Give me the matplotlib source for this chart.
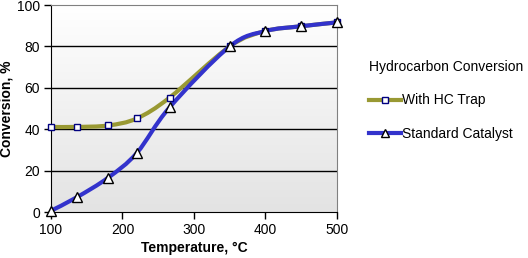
import matplotlib
matplotlib.use('Agg')
import matplotlib.pyplot as plt
import numpy as np
from matplotlib.path import Path
from matplotlib.patches import PathPatch
from matplotlib.lines import Line2D

plt.rcParams['font.family'] = ['Liberation Sans', 'DejaVu Sans']

# temperatures (deg C) and conversions (%)
temp = [100, 136, 180, 220, 266, 350, 400, 449, 500]
trap = [41.1, 41.1, 41.8, 45.2, 55.3, 80.0, 87.4, 89.7, 91.6]
standard = [0.6, 7.1, 16.6, 28.5, 50.6, 80.0, 87.4, 89.7, 91.6]

trap_color = '#999933'
std_color = '#3333cc'
mark_color = '#000080'


def smooth_path(xs, ys):
    # Excel-style smoothed line: cubic Bezier segments, drawn by matplotlib
    xs = np.asarray(xs, float)
    ys = np.asarray(ys, float)
    verts = [(xs[0], ys[0])]
    codes = [Path.MOVETO]
    n = len(xs)
    for i in range(n - 1):
        p0 = (xs[max(i - 1, 0)], ys[max(i - 1, 0)])
        p1 = (xs[i], ys[i])
        p2 = (xs[i + 1], ys[i + 1])
        p3 = (xs[min(i + 2, n - 1)], ys[min(i + 2, n - 1)])
        c1 = (p1[0] + (p2[0] - p0[0]) / 6, p1[1] + (p2[1] - p0[1]) / 6)
        c2 = (p2[0] - (p3[0] - p1[0]) / 6, p2[1] - (p3[1] - p1[1]) / 6)
        verts += [c1, c2, p2]
        codes += [Path.CURVE4] * 3
    return Path(verts, codes)


fig = plt.figure(figsize=(5.28, 2.58), dpi=100)
ax = fig.add_axes([51 / 528, 1 - 212 / 258, 286 / 528, 207 / 258])

# gradient background
grad = np.linspace(0, 1, 256).reshape(-1, 1)
cmap = matplotlib.colors.LinearSegmentedColormap.from_list('g', ['#e3e3e3', '#ffffff'])
ax.imshow(grad, extent=[100, 500, 0, 100], aspect='auto', cmap=cmap, origin='lower', zorder=0)

for g in [20, 40, 60, 80]:
    ax.axhline(g, color='black', lw=1, zorder=1)

ax.add_patch(PathPatch(smooth_path(temp, trap), fill=False, edgecolor=trap_color, lw=3, zorder=2))
ax.add_patch(PathPatch(smooth_path(temp, standard), fill=False, edgecolor=std_color, lw=3, zorder=3))
ax.plot(temp, trap, ls='none', marker='s', ms=5, mfc='white', mec=mark_color, mew=1, zorder=4, clip_on=False)
ax.plot(temp, standard, ls='none', marker='^', ms=7, mfc='white', mec='black', mew=1, zorder=5, clip_on=False)

ax.set_xlim(100, 500)
ax.set_ylim(0, 100)
ax.set_xticks([100, 200, 300, 400, 500])
ax.set_yticks([0, 20, 40, 60, 80, 100])
ax.tick_params(direction='out', length=5, width=1, labelsize=10, colors='black', pad=3)
for s in ['left', 'bottom']:
    ax.spines[s].set_color('black')
for s in ['top', 'right']:
    ax.spines[s].set_color('#808080')

ax.set_xlabel('Temperature, °C', fontsize=10, fontweight='bold', labelpad=3)
ax.set_ylabel('Conversion, %', fontsize=10, fontweight='bold', labelpad=2)

handles = [
    Line2D([], [], color=trap_color, lw=3, marker='s', ms=4, mfc='white', mec=mark_color),
    Line2D([], [], color=std_color, lw=3, marker='^', ms=6, mfc='white', mec='black'),
]
leg = fig.legend(handles, ['With HC Trap', 'Standard Catalyst'], title='Hydrocarbon Conversion',
                 loc='upper left', bbox_to_anchor=(362 / 528, 1 - 53 / 258), frameon=False,
                 fontsize=10, title_fontsize=10, handlelength=2.3, handletextpad=0.1,
                 labelspacing=1.4, borderpad=0)
leg._legend_box.align = 'left'

fig.savefig('out.png', dpi=100)
